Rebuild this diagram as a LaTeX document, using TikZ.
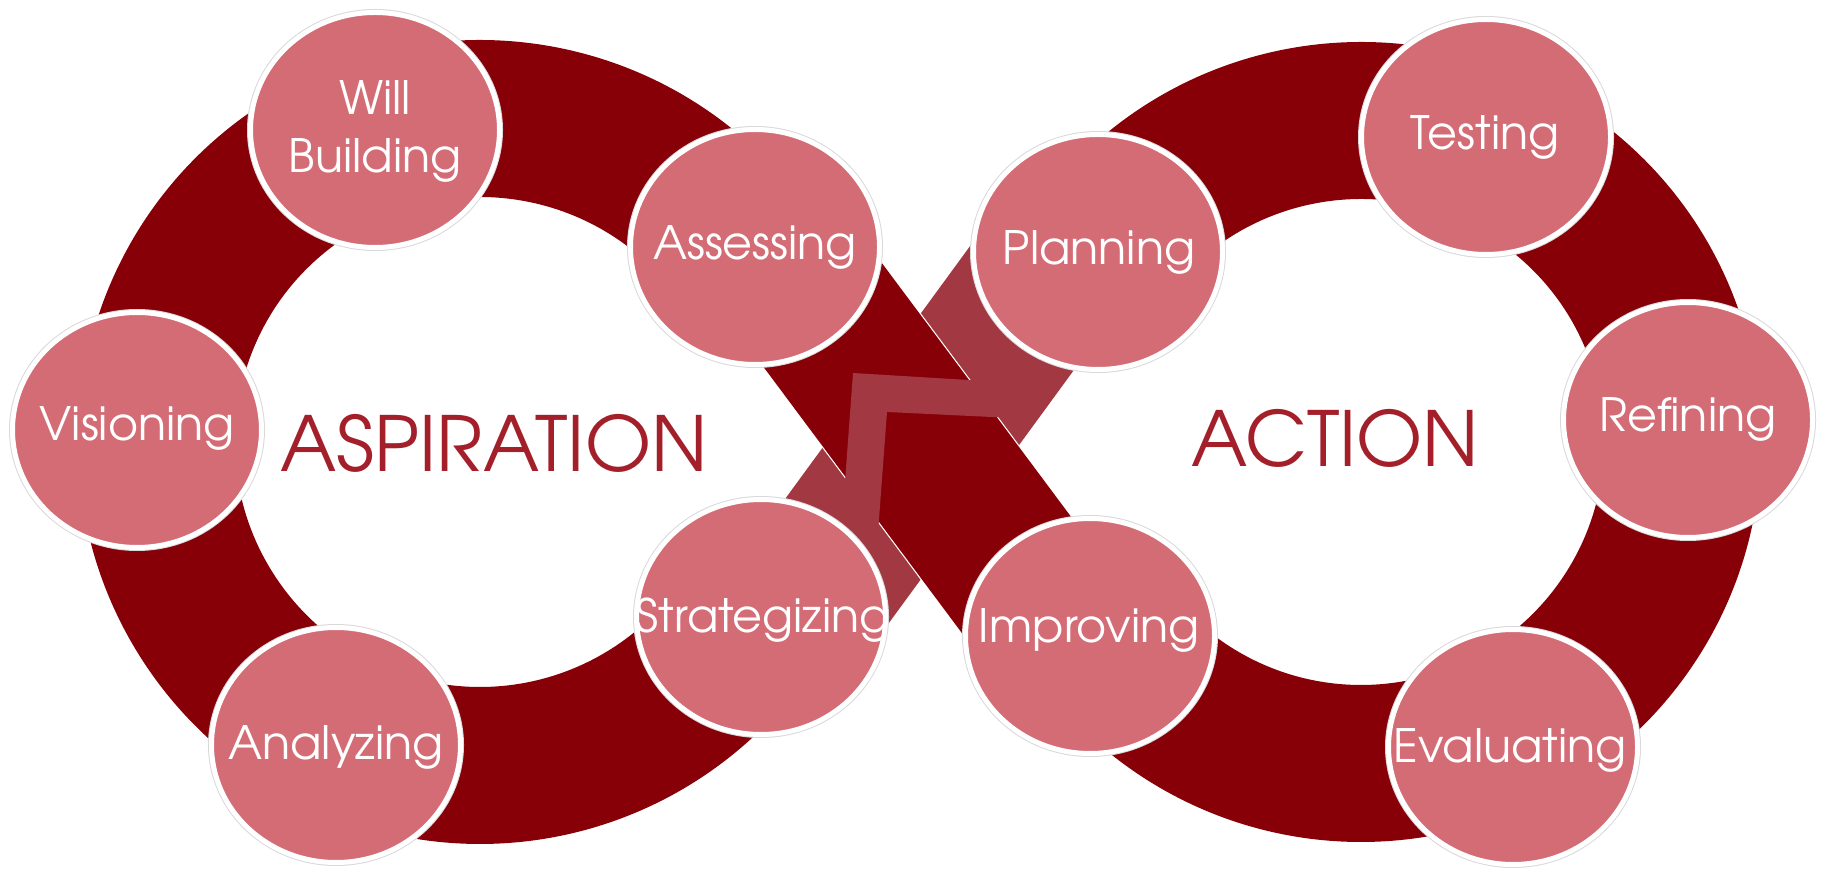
\documentclass[tikz,border=0pt]{standalone}
\usepackage{fontspec}
\setmainfont{TeX Gyre Adventor}
\usetikzlibrary{shapes.geometric}
\definecolor{band}{HTML}{870008}
\definecolor{bandlight}{HTML}{A23842}
\definecolor{disc}{HTML}{D46C75}
\definecolor{titlered}{HTML}{A3202B}
\begin{document}
\begin{tikzpicture}[x=1pt,y=1pt,
  loopband/.style={line width=157pt, draw=band},
  crossband/.style={line width=157pt, draw=bandlight},
  topband/.style={line width=1.2pt, draw=white, double=band, double distance=157pt},
  stage/.style={ellipse, fill=disc, draw=white, line width=5pt, minimum width=249pt, minimum height=235pt, inner sep=0pt, preaction={draw=black!15, line width=7pt}},
  lab/.style={text=white, font=\fontsize{46}{58}\selectfont, align=center, inner sep=0pt},
  headline/.style={text=titlered, font=\fontsize{76}{80}\selectfont, inner sep=0pt}]
\useasboundingbox (0,0) rectangle (1825,868);
% centres of the two loops
\coordinate (L) at (480,426);
\coordinate (R) at (1361,426);
% the two loops
\draw[loopband] (L) ++(35.3:323.5pt) arc[start angle=35.3, end angle=328.1, radius=323.5pt];
\draw[loopband] (R) ++(144.2:321.5pt) arc[start angle=144.2, end angle=-144.4, radius=321.5pt];
% crossing: lower bar (light), then upper bar (dark)
\coordinate (s1) at (796,251);
\coordinate (s2) at (1063,616);
\draw[crossband] (s1) -- (s2);
\coordinate (d1) at (772,621);
\coordinate (d2) at (1062,232);
\draw[topband] (d1) -- (d2);
% zigzag break
\fill[bandlight] (853,495) -- (985,487) -- (1013,450) -- (887,456) -- (877,322) -- (844,373) -- cycle;
% stage discs
\node[stage] (will) at (375,738) {};
\node[stage] (assess) at (755,621) {};
\node[stage] (vision) at (137,438) {};
\node[stage] (analyze) at (336,123) {};
\node[stage] (strat) at (761,251) {};
\node[stage] (plan) at (1098,616) {};
\node[stage] (test) at (1486,731) {};
\node[stage] (refine) at (1688,448) {};
\node[stage] (improve) at (1090,232) {};
\node[stage] (eval) at (1513,121) {};
% labels
\node[lab, anchor=center] (will-t) at (375,736.5) {Will\\Building};
\node[lab, anchor=base] (assess-t) at (755,608) {Assessing};
\node[lab, anchor=base] (vision-t) at (137,427) {Visioning};
\node[lab, anchor=base] (analyze-t) at (336,109) {Analyzing};
\node[lab, anchor=base] (strat-t) at (763,236) {Strategizing};
\node[lab, anchor=base] (plan-t) at (1099,603) {Planning};
\node[lab, anchor=base] (test-t) at (1485,718) {Testing};
\node[lab, anchor=base] (refine-t) at (1688,436) {Refining};
\node[lab, anchor=base] (improve-t) at (1089,226) {Improving};
\node[lab, anchor=base] (eval-t) at (1510,106) {Evaluating};
% titles
\node[headline, anchor=base] (asp) at (494,396) {ASPIRATION};
\node[headline, anchor=base] (act) at (1335.5,401) {ACTION};
\end{tikzpicture}
\end{document}
